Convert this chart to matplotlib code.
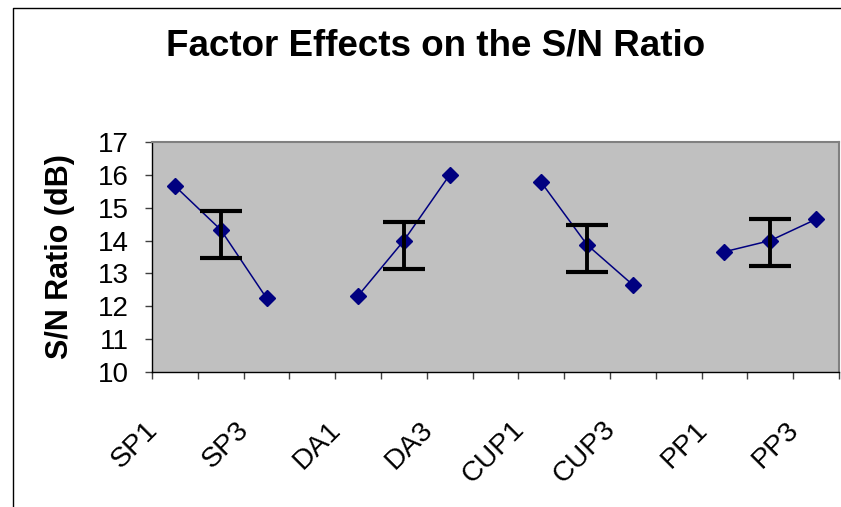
import numpy as np
import matplotlib
matplotlib.use('Agg')
import matplotlib.pyplot as plt
from matplotlib.lines import Line2D
from matplotlib.transforms import ScaledTranslation

plt.rcParams['font.family'] = ['Liberation Sans', 'DejaVu Sans']

# categories (blank slots separate the factor groups)
categories = ['SP1', 'SP2', 'SP3', '', 'DA1', 'DA2', 'DA3', '',
              'CUP1', 'CUP2', 'CUP3', '', 'PP1', 'PP2', 'PP3']
# S/N ratio per level (nan = gap between groups)
sn_ratio = [15.66, 14.33, 12.25, np.nan, 12.32, 14.00, 16.00, np.nan,
            15.77, 13.87, 12.65, np.nan, 13.66, 14.00, 14.65]

# error bars on the middle level of each factor
err_labels = ['SP2', 'DA2', 'CUP2', 'PP2']
err_low = [13.48, 13.12, 13.03, 13.23]
err_high = [14.91, 14.56, 14.48, 14.67]

W, H = 841, 507
fig = plt.figure(figsize=(W / 100, H / 100), dpi=100)
ax = fig.add_axes([152 / W, 1 - 372 / H, 687 / W, 230 / H])
ax.set_facecolor('#c0c0c0')

x = np.arange(len(categories))
ax.plot(x, sn_ratio, color='#000080', lw=1.1, marker='D', ms=8,
        mfc='#000080', mec='#000080')

ex = [categories.index(c) for c in err_labels]
lo = np.array(err_low)
hi = np.array(err_high)
mid = (lo + hi) / 2
ax.errorbar(ex, mid, yerr=[mid - lo, hi - mid], fmt='none', ecolor='black',
            elinewidth=2.8, capsize=15, capthick=3, zorder=3)

ax.set_xlim(-0.5, len(categories) - 0.5)
ax.set_ylim(10, 17)
ax.set_yticks(np.arange(10, 18, 1))
ax.tick_params(axis='y', labelsize=20, length=5, width=1, pad=12, color='#404040')

# labels on every other category, ticks between categories
ax.set_xticks(x[::2])
ax.set_xticklabels(categories[::2], rotation=45, ha='right', fontsize=20.5)
ax.set_xticks(np.arange(-0.5, len(categories), 1), minor=True)
ax.tick_params(axis='x', which='major', length=0, pad=32)
ax.tick_params(axis='x', which='minor', length=5, width=1, color='#404040')
for lab in ax.get_xticklabels():
    lab.set_transform(lab.get_transform() + ScaledTranslation(-0.12, 0, fig.dpi_scale_trans))

for s in ['top', 'right']:
    ax.spines[s].set_color('#808080')
    ax.spines[s].set_linewidth(1.5)
for s in ['left', 'bottom']:
    ax.spines[s].set_color('black')
    ax.spines[s].set_linewidth(1)

ax.set_ylabel('S/N Ratio (dB)', fontsize=22, fontweight='bold', va='center')
ax.yaxis.set_label_coords(-0.134, 0.5)

fig.text(436 / W, 1 - 55 / H, 'Factor Effects on the S/N Ratio',
         fontsize=26.5, fontweight='bold', ha='center', va='baseline')

# chart area border (only left and top visible in the crop)
fig.add_artist(Line2D([13 / W, 13 / W, 1], [0, 1 - 8 / H, 1 - 8 / H],
                      color='black', lw=1, transform=fig.transFigure))

fig.savefig('out.png', dpi=100)
